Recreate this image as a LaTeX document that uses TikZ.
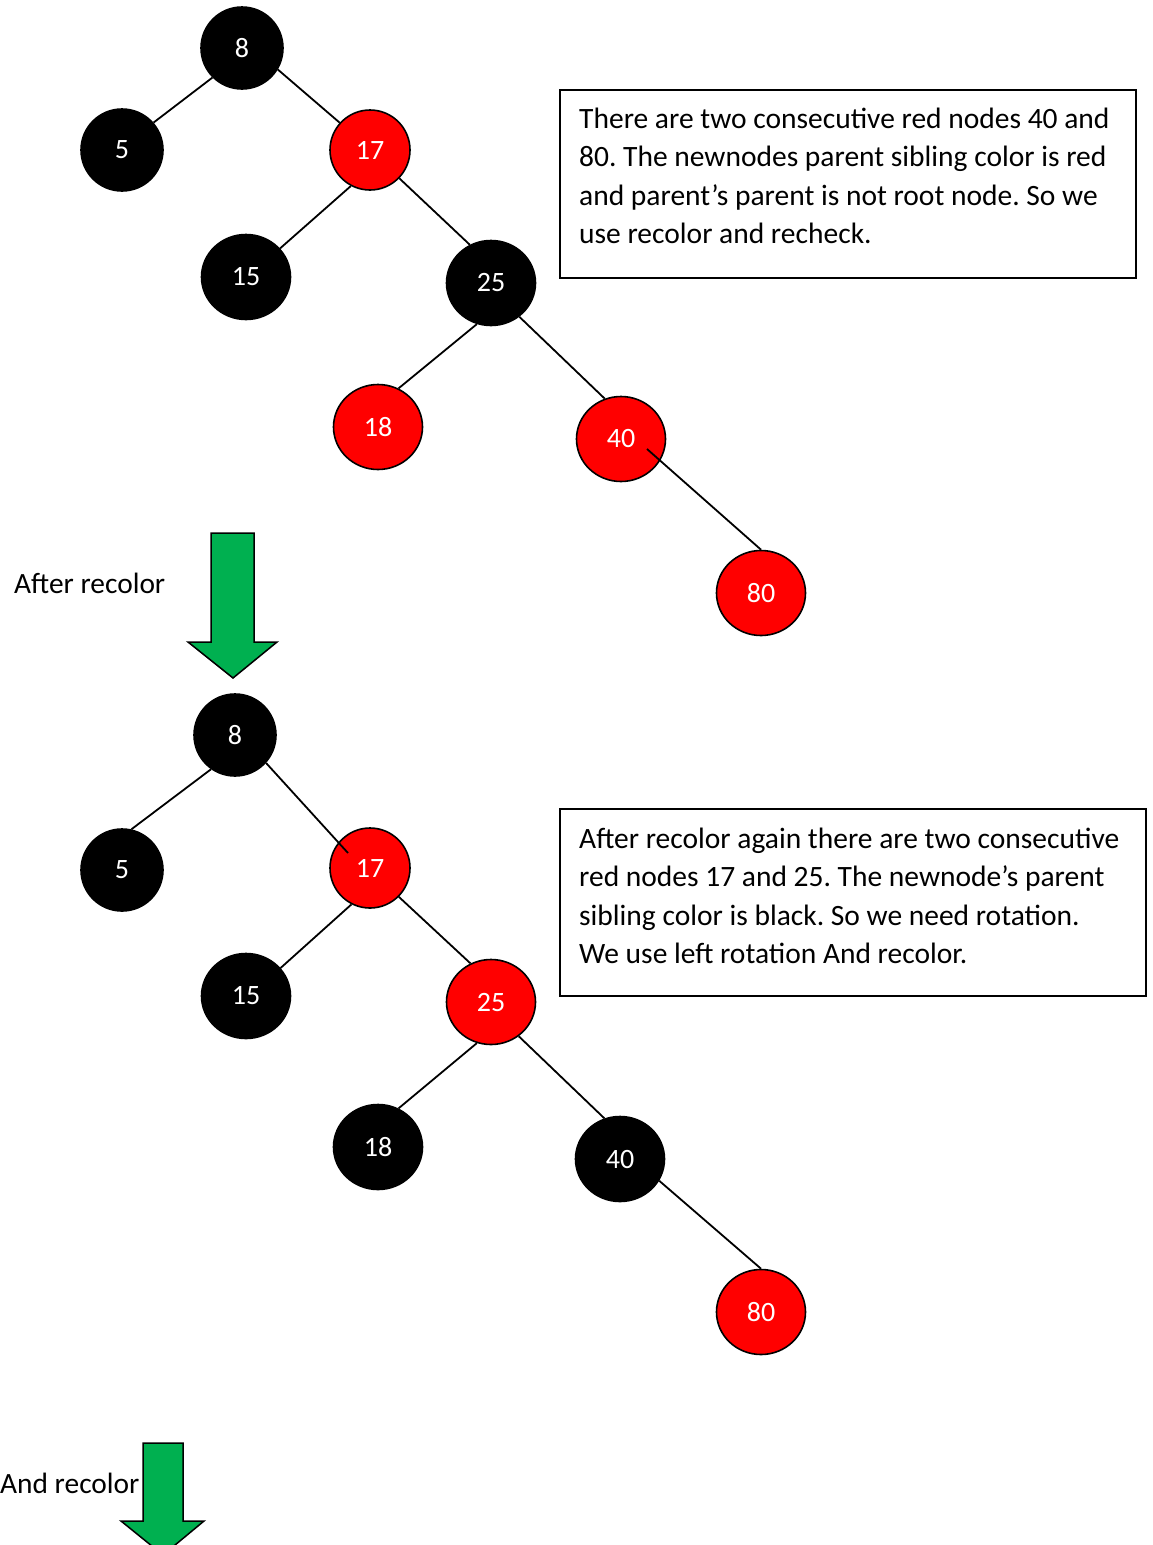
\documentclass[tikz,border=0pt]{standalone}
\usepackage{fontspec}
\setmainfont{Carlito}
\usetikzlibrary{shapes.geometric,calc}
\definecolor{rbred}{HTML}{FF0000}
\definecolor{arrowgreen}{HTML}{00B050}

\begin{document}
\frenchspacing
\begin{tikzpicture}[x=1pt,y=1pt,
  rbnode/.style={ellipse, inner sep=0pt, line width=1.6pt, text=white,
                 font=\fontsize{28}{32}\selectfont},
  blacknode/.style={rbnode, fill=black, draw=black},
  rednode/.style={rbnode, fill=rbred, draw=black},
  smallnode/.style={minimum width=82pt, minimum height=82pt},
  bignode/.style={minimum width=89pt, minimum height=85pt},
  edge/.style={line width=1.8pt},
  greenarrow/.style={fill=arrowgreen, draw=black, line width=1.5pt, line join=miter},
  labeltext/.style={inner sep=0pt, font=\fontsize{29.4}{38.5}\selectfont},
  boxframe/.style={draw=black, line width=2pt, inner sep=0pt, fill=none},
  notetext/.style={inner sep=0pt, align=left,
                   font=\fontsize{29.5}{38.5}\selectfont\frenchspacing},
]
\useasboundingbox (0,0) rectangle (1153,-1545);

% ---------- first tree: before recolor ----------
\node[blacknode,smallnode] (a8)  at (242,-48)  {8};
\node[blacknode,smallnode] (a5)  at (122,-150) {5};
\node[rednode,smallnode,minimum width=80pt,minimum height=80pt] (a17) at (370,-150) {17};
\node[blacknode,bignode]   (a15) at (246,-277) {15};
\node[blacknode,bignode]   (a25) at (491,-283) {25};
\node[rednode,bignode]     (a18) at (378,-427) {18};
\node[rednode,bignode]     (a40) at (621,-439) {40};
\node[rednode,bignode]     (a80) at (761,-593) {80};

\draw[edge] (a8.225)  -- (a5.41);
\draw[edge] (a8.-31)  -- (a17.138);
\draw[edge] (a17.242) -- (a15.40);
\draw[edge] (a17.-44) -- (a25.119);
\draw[edge] (a25.251) -- (a18.62);
\draw[edge] (a25.-50) -- (a40.112);
\draw[edge] ($(a40)+(26,-10)$) -- (a80.90);

\node[boxframe, minimum width=576pt, minimum height=188pt, anchor=north west] (box1) at (559,-89) {};
\node[notetext, anchor=north west] (note1) at (579,-103)
  {\rule{0pt}{25pt}There are two consecutive red nodes 40 and\\
   80. The newnodes parent sibling color is red\\
   and parent’s parent is not root node. So we\\
   use recolor and recheck.};

% ---------- step arrow ----------
\node[labeltext, anchor=base west] (step1) at (14,-593) {After recolor};
\draw[greenarrow] (211,-533) -- (254,-533) -- (254,-642) -- (277,-642)
  -- (233,-678) -- (188,-642) -- (211,-642) -- cycle;

% ---------- second tree: after recolor ----------
\node[blacknode,smallnode] (b8)  at (235,-735)  {8};
\node[blacknode,smallnode] (b5)  at (122,-870)  {5};
\node[rednode,smallnode,minimum width=80pt,minimum height=80pt] (b17) at (370,-868) {17};
\node[blacknode,bignode]   (b15) at (246,-996)  {15};
\node[rednode,bignode]     (b25) at (491,-1002) {25};
\node[blacknode,bignode]   (b18) at (378,-1147) {18};
\node[blacknode,bignode]   (b40) at (620,-1159) {40};
\node[rednode,bignode]     (b80) at (761,-1312) {80};

\draw[edge] (b8.235)  -- (b5.77);
\draw[edge] (b8.-42)  -- ($(b17)+(-22,15)$);
\draw[edge] (b17.243) -- (b15.39);
\draw[edge] (b17.-45) -- (b25.118);
\draw[edge] (b25.251) -- (b18.62);
\draw[edge] (b25.-51) -- (b40.111);
\draw[edge] (b40.-29) -- (b80.90);

\node[boxframe, minimum width=586pt, minimum height=187pt, anchor=north west] (box2) at (559,-808) {};
\node[notetext, anchor=north west] (note2) at (579,-823)
  {\rule{0pt}{25pt}After recolor again there are two consecutive\\
   red nodes 17 and 25. The newnode’s parent\\
   sibling color is black. So we need rotation.\\
   We use left rotation And recolor.};

% ---------- second step arrow ----------
\node[labeltext, anchor=base west] (step2) at (0,-1493) {And recolor};
\draw[greenarrow] (143,-1443) -- (183,-1443) -- (183,-1521) -- (204,-1521)
  -- (163,-1555) -- (121,-1521) -- (143,-1521) -- cycle;
\end{tikzpicture}
\end{document}
